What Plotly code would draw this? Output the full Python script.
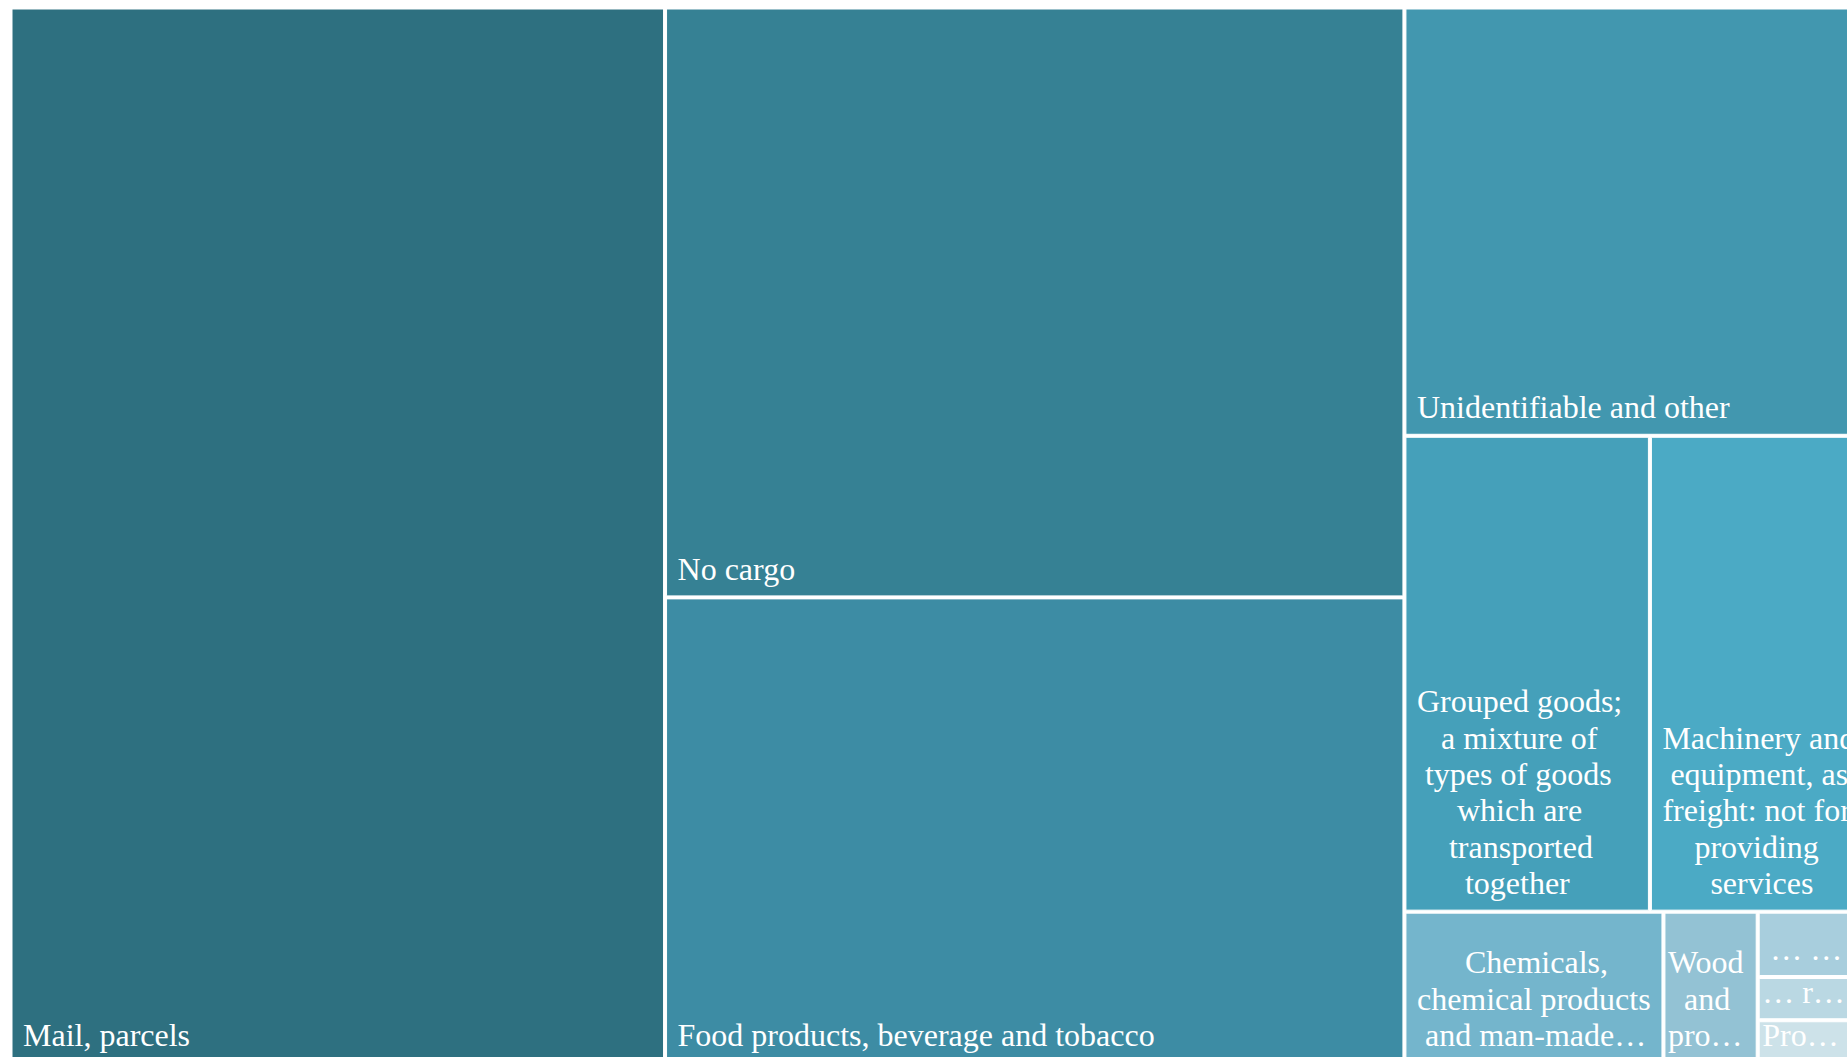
import plotly.graph_objects as go

NB = "\u00a0"

# Categories (full names)
labels = [
    "Mail, parcels",
    "No cargo",
    "Food products, beverage and tobacco",
    "Unidentifiable and other",
    "Grouped goods; a mixture of types of goods which are transported together",
    "Machinery and equipment, as freight: not for providing services",
    "Chemicals, chemical products and man-made fibres",
    "Wood and products of wood and cork",
    "Textiles and textile products; leather and leather products",
    "Basic metals; fabricated metal products",
    "Products of agriculture, hunting and forestry",
]
# Wrapped / truncated tile labels as shown in the chart: (leading spaces, line text)
label_lines = [
    [(1, "Mail, parcels")],
    [(1, "No cargo")],
    [(1, "Food products, beverage and tobacco")],
    [(1, "Unidentifiable and other")],
    [(1, "Grouped goods;"), (4, "a mixture of"), (2, "types of goods"),
     (6, "which are"), (5, "transported"), (7, "together")],
    [(1, "Machinery and"), (2, "equipment, as"), (1, "freight: not for"),
     (5, "providing"), (7, "services")],
    [(7, "Chemicals,"), (1, "chemical products"), (2, "and man-made…")],
    [(0, "Wood"), (2, "and"), (0, "pro…")],
    [(1, "…" + NB + "…")],
    [(0, "…" + NB + "r…")],
    [(0, "Pro…")],
]
values = [355, 224, 177, 99, 60, 50, 20.2, 7.35, 3.25, 2.15, 2.15]
colors = [
    "#2E7080", "#368194", "#3D8CA4", "#4297AF", "#45A0BA", "#4BAAC5",
    "#74B5CC", "#93C2D4", "#A8CEDD", "#BAD8E3", "#CDE2E9",
]

LABEL_PX = 32
# a trailing, invisible wide space lifts each label block a little off the tile bottom
TAIL = f'<span style="font-size:60px">{NB}</span>'
shown_text = [
    "<br>".join(
        f'<span style="font-size:{LABEL_PX}px">{NB * n}{t}</span>' for n, t in lines
    ) + TAIL
    for lines in label_lines
]

fig = go.Figure(go.Treemap(
    labels=labels,
    parents=[""] * len(labels),
    values=values,
    text=shown_text,
    texttemplate="%{text}",
    textposition="bottom left",
    textfont=dict(family="Liberation Serif, Times New Roman, serif", size=28, color="white"),
    marker=dict(colors=colors, line=dict(width=1, color="white"),
                pad=dict(t=0, l=0, r=0, b=0)),
    tiling=dict(packing="squarify", squarifyratio=1.2, pad=3),
    pathbar=dict(visible=False),
    sort=True,
    hoverinfo="label+value",
))
fig.update_layout(
    width=1853, height=1062,
    margin=dict(l=12, r=0, t=9, b=0),
    paper_bgcolor="white",
    uniformtext=dict(minsize=28, mode="show"),
)
fig.write_html(
    "out.html",
    post_script="document.body.style.margin='0';document.body.style.overflow='hidden';"
                "document.documentElement.style.overflow='hidden';",
)
